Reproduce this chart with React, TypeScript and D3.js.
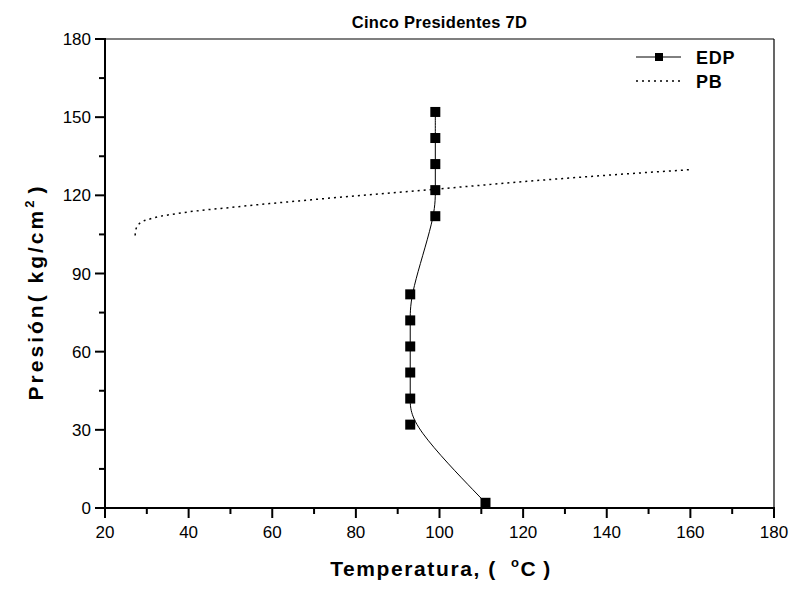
import React from 'react';
import * as d3 from 'd3';

// EDP profile: temperature (°C) vs pressure (kg/cm²)
const edpTemp = [111, 93, 93, 93, 93, 93, 93, 99, 99, 99, 99, 99];
const edpPres = [2, 32, 42, 52, 62, 72, 82, 112, 122, 132, 142, 152];

// PB (bubble point) curve
const pbTemp = [27.2, 27.4, 28.4, 30.9, 37.3, 51, 69.4, 98.6, 124.3, 142.6, 160.4];
const pbPres = [104.6, 107.0, 109.4, 111.0, 113.0, 115.5, 118.3, 122.3, 125.8, 128.0, 129.9];

const xTicks = [20, 40, 60, 80, 100, 120, 140, 160, 180];
const yTicks = [0, 30, 60, 90, 120, 150, 180];
const xMinor = [30, 50, 70, 90, 110, 130, 150, 170];
const yMinor = [15, 45, 75, 105, 135, 165];

const W = 794;
const H = 589;
const left = 105;
const right = 774;
const top = 39;
const bottom = 508;

const FONT = 'Liberation Sans, Arial, sans-serif';

export default function App() {
  const x = d3.scaleLinear().domain([20, 180]).range([left, right]);
  const y = d3.scaleLinear().domain([0, 180]).range([bottom, top]);

  const edp = edpTemp.map((t, i) => [t, edpPres[i]] as [number, number]);
  const pb = pbTemp.map((t, i) => [t, pbPres[i]] as [number, number]);

  const edpLine = d3
    .line<[number, number]>()
    .x((d) => x(d[0]))
    .y((d) => y(d[1]))
    .curve(d3.curveBasis)(edp) as string;

  const pbLine = d3
    .line<[number, number]>()
    .x((d) => x(d[0]))
    .y((d) => y(d[1]))
    .curve(d3.curveMonotoneX)(pb) as string;

  const ms = 10;

  return (
    <svg
      width={W}
      height={H}
      style={{ position: 'absolute', left: 0, top: 0, background: '#fff' }}
      fontFamily={FONT}
    >
      <rect width={W} height={H} fill="#fff" />

      {/* title */}
      <text x={(left + right) / 2} y={28} textAnchor="middle" fontSize={16.5} fontWeight="bold" letterSpacing={0.3}>
        Cinco Presidentes 7D
      </text>

      {/* frame */}
      <line x1={left} x2={right} y1={top} y2={top} stroke="#000" strokeWidth={1.2} />
      <line x1={right} x2={right} y1={top} y2={bottom} stroke="#000" strokeWidth={1.2} />

      {/* x axis */}
      <line x1={left - 1} x2={right + 1} y1={bottom} y2={bottom} stroke="#000" strokeWidth={2} />
      {xTicks.map((t) => (
        <g key={'xt' + t}>
          <line x1={x(t)} x2={x(t)} y1={bottom} y2={bottom + 10} stroke="#000" strokeWidth={2} />
          <text x={x(t)} y={bottom + 30} textAnchor="middle" fontSize={17}>
            {t}
          </text>
        </g>
      ))}
      {xMinor.map((t) => (
        <line key={'xm' + t} x1={x(t)} x2={x(t)} y1={bottom} y2={bottom + 6} stroke="#000" strokeWidth={2} />
      ))}

      {/* y axis */}
      <line x1={left} x2={left} y1={top - 1} y2={bottom + 1} stroke="#000" strokeWidth={2} />
      {yTicks.map((t) => (
        <g key={'yt' + t}>
          <line x1={left - 10} x2={left} y1={y(t)} y2={y(t)} stroke="#000" strokeWidth={2} />
          <text x={left - 14} y={y(t) + 6} textAnchor="end" fontSize={17}>
            {t}
          </text>
        </g>
      ))}
      {yMinor.map((t) => (
        <line key={'ym' + t} x1={left - 6} x2={left} y1={y(t)} y2={y(t)} stroke="#000" strokeWidth={2} />
      ))}

      {/* axis titles */}
      <text x={441} y={576} textAnchor="middle" fontSize={21} fontWeight="bold" letterSpacing={1.6}>
        Temperatura, (
        <tspan dx={14} dy={-9} fontSize={13}>o</tspan>
        <tspan dy={9}>C</tspan>
        <tspan dx={6}>)</tspan>
      </text>
      <text
        transform={`translate(43, 292) rotate(-90)`}
        textAnchor="middle"
        fontSize={21}
        fontWeight="bold"
        letterSpacing={3}
      >
        Presión( kg/cm
        <tspan dy={-9} fontSize={13}>2</tspan>
        <tspan dx={4} dy={9}>)</tspan>
      </text>

      {/* PB curve */}
      <path d={pbLine} fill="none" stroke="#000" strokeWidth={1.5} strokeDasharray="2 4" />

      {/* EDP curve */}
      <path d={edpLine} fill="none" stroke="#000" strokeWidth={1} />
      {edp.map((d, i) => (
        <rect key={'m' + i} x={x(d[0]) - ms / 2} y={y(d[1]) - ms / 2} width={ms} height={ms} fill="#000" />
      ))}

      {/* legend */}
      <line x1={636} x2={681} y1={57} y2={57} stroke="#000" strokeWidth={1} />
      <rect x={655} y={53} width={8} height={8} fill="#000" />
      <text x={696} y={64} fontSize={18} fontWeight="bold" letterSpacing={0.8}>EDP</text>
      <line x1={636} x2={683} y1={81} y2={81} stroke="#000" strokeWidth={1.5} strokeDasharray="2 4" />
      <text x={696} y={88} fontSize={18} fontWeight="bold" letterSpacing={0.8}>PB</text>
    </svg>
  );
}
